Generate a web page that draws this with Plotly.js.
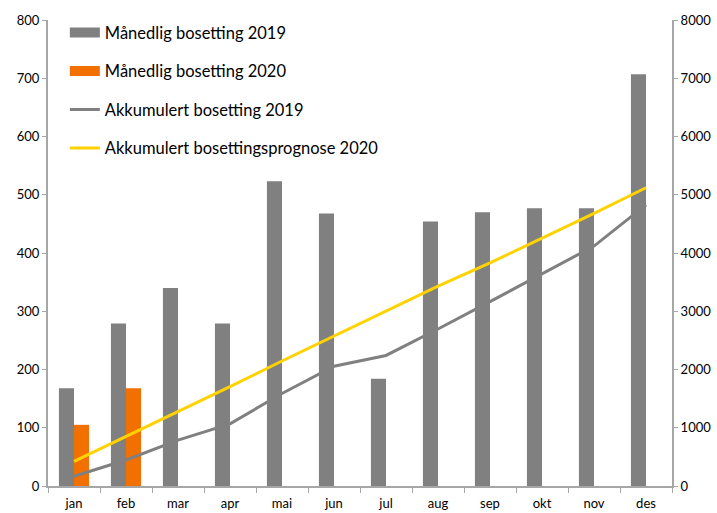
<!DOCTYPE html>
<html><head><meta charset="utf-8">
<script src="https://cdn.plot.ly/plotly-3.0.1.min.js"></script>
<style>body{margin:0;background:#fff}#c{width:717px;height:513px}</style>
</head><body><div id="c"></div>
<script>
const months = ["jan","feb","mar","apr","mai","jun","jul","aug","sep","okt","nov","des"];
const monthly2019 = [168,279,340,279,523,468,184,454,470,477,477,707];
const monthly2020 = [105,168,null,null,null,null,null,null,null,null,null,null];
const accum2019 = [168,447,787,1066,1589,2057,2241,2695,3165,3642,4119,4826];
const forecast2020 = [424,850,1288,1705,2146,2575,3004,3433,3830,4250,4680,5120];

const GREY = "#808080", ORANGE = "#f27000", YELLOW = "#ffd200";
const traces = [
  {type:"bar", x:months, y:monthly2019, marker:{color:GREY}, showlegend:false, name:"Månedlig bosetting 2019"},
  {type:"bar", x:months, y:monthly2020, marker:{color:ORANGE}, showlegend:false, name:"Månedlig bosetting 2020"},
  {type:"scatter", mode:"lines", x:months, y:accum2019, yaxis:"y2", line:{color:GREY,width:3}, showlegend:false, name:"Akkumulert bosetting 2019"},
  {type:"scatter", mode:"lines", x:months, y:forecast2020, yaxis:"y2", line:{color:YELLOW,width:3}, showlegend:false, name:"Akkumulert bosettingsprognose 2020"},
  // legend entries
  {type:"scatter", mode:"lines", x:[null], y:[null], line:{color:GREY,width:10}, name:"Månedlig bosetting 2019", legendgroup:"a"},
  {type:"scatter", mode:"lines", x:[null], y:[null], line:{color:ORANGE,width:10}, name:"Månedlig bosetting 2020", legendgroup:"b"},
  {type:"scatter", mode:"lines", x:[null], y:[null], line:{color:GREY,width:3}, name:"Akkumulert bosetting 2019", legendgroup:"c"},
  {type:"scatter", mode:"lines", x:[null], y:[null], line:{color:YELLOW,width:3}, name:"Akkumulert bosettingsprognose 2020", legendgroup:"d"}
];
const AX = "#a6a6a6";
const layout = {
  width:717, height:513,
  margin:{l:48, r:45, t:20, b:27},
  paper_bgcolor:"#fff", plot_bgcolor:"#fff",
  font:{family:"Lato, 'Open Sans', sans-serif", size:13, color:"#000"},
  barmode:"group", bargap:0.42, bargroupgap:0,
  showlegend:true,
  legend:{x:0.027, y:1.01, xanchor:"left", yanchor:"top", bgcolor:"rgba(0,0,0,0)",
          font:{size:16.5, color:"#000"}, tracegroupgap:14, traceorder:"grouped"},
  xaxis:{type:"category", showline:true, linecolor:AX, linewidth:2, ticks:"outside", tickson:"boundaries",
         ticklen:5, tickcolor:AX, tickwidth:1, showgrid:false, zeroline:false,
         tickfont:{size:13}, ticklabelstandoff:4},
  yaxis:{range:[0,800], dtick:100, showline:true, linecolor:AX, linewidth:2, ticks:"outside",
         ticklen:4, tickcolor:AX, showgrid:false, zeroline:false, tickfont:{size:13}},
  yaxis2:{range:[0,8000], dtick:1000, overlaying:"y", side:"right", showline:true, linecolor:AX, linewidth:2,
          ticks:"outside", ticklen:4, tickcolor:AX, showgrid:false, zeroline:false, tickfont:{size:13}}
};
Plotly.newPlot("c", traces, layout, {displayModeBar:false, staticPlot:true});
</script></body></html>
